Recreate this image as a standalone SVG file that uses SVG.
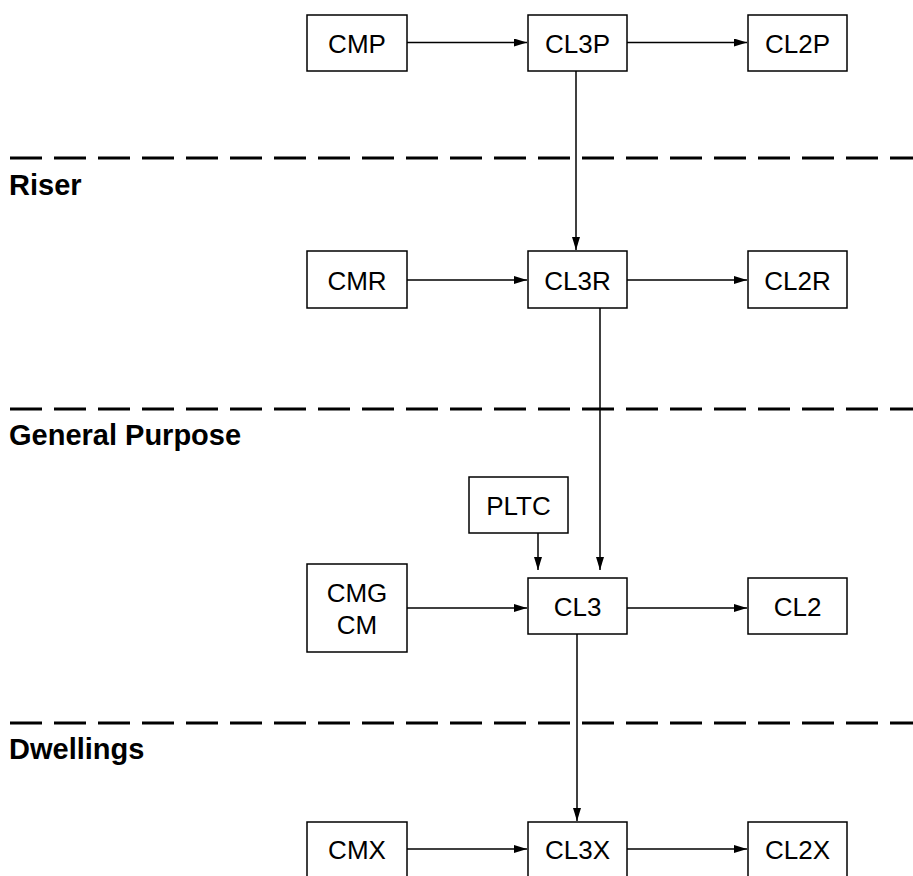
<svg xmlns="http://www.w3.org/2000/svg" width="913" height="876" viewBox="0 0 913 876">
<style>
.box{fill:#fff;stroke:#000;stroke-width:1.5}
.lbl{font-family:"Liberation Sans",Arial,sans-serif;font-size:26px;text-anchor:middle;fill:#000}
.sec{font-family:"Liberation Sans",Arial,sans-serif;font-size:29px;font-weight:bold;fill:#000}
.dash{stroke:#000;stroke-width:3;stroke-dasharray:32 12;fill:none}
.conn{stroke:#000;stroke-width:1.5;fill:none;marker-end:url(#ah)}
</style>
<defs>
<marker id="ah" viewBox="0 0 13 8" refX="13" refY="4" markerWidth="13" markerHeight="8" markerUnits="userSpaceOnUse" orient="auto">
<path d="M0,0 L13,4 L0,8 Z" fill="#000"/>
</marker>
</defs>
<rect width="913" height="876" fill="#fff"/>
<g id="separators">
<line class="dash" x1="10" y1="158" x2="913" y2="158"/>
<line class="dash" x1="10" y1="409" x2="913" y2="409"/>
<line class="dash" x1="10" y1="723" x2="913" y2="723"/>
<text class="sec" x="9" y="195">Riser</text>
<text class="sec" x="9" y="445">General Purpose</text>
<text class="sec" x="9" y="759">Dwellings</text>
</g>
<g id="connectors">
<line class="conn" x1="407" y1="42.5" x2="527" y2="42.5"/>
<line class="conn" x1="627" y1="42.5" x2="747" y2="42.5"/>
<line class="conn" x1="576" y1="71" x2="576" y2="250"/>
<line class="conn" x1="407" y1="280" x2="527" y2="280"/>
<line class="conn" x1="627" y1="280" x2="747" y2="280"/>
<line class="conn" x1="600" y1="308" x2="600" y2="570"/>
<line class="conn" x1="538" y1="533" x2="538" y2="570"/>
<line class="conn" x1="407" y1="608" x2="527" y2="608"/>
<line class="conn" x1="627" y1="608" x2="747" y2="608"/>
<line class="conn" x1="577" y1="634" x2="577" y2="821"/>
<line class="conn" x1="407" y1="849" x2="527" y2="849"/>
<line class="conn" x1="627" y1="849" x2="747" y2="849"/>
</g>
<g id="CMP"><rect class="box" x="307" y="15" width="100" height="56"/><text class="lbl" x="357" y="52.5">CMP</text></g>
<g id="CL3P"><rect class="box" x="528" y="15" width="99" height="56"/><text class="lbl" x="577.5" y="52.5">CL3P</text></g>
<g id="CL2P"><rect class="box" x="748" y="15" width="99" height="56"/><text class="lbl" x="797.5" y="52.5">CL2P</text></g>
<g id="CMR"><rect class="box" x="307" y="251" width="100" height="57"/><text class="lbl" x="357" y="289.5">CMR</text></g>
<g id="CL3R"><rect class="box" x="528" y="251" width="99" height="57"/><text class="lbl" x="577.5" y="289.5">CL3R</text></g>
<g id="CL2R"><rect class="box" x="748" y="251" width="99" height="57"/><text class="lbl" x="797.5" y="289.5">CL2R</text></g>
<g id="PLTC"><rect class="box" x="469" y="477" width="99" height="56"/><text class="lbl" x="518.5" y="514.5">PLTC</text></g>
<g id="CMG"><rect class="box" x="307" y="564" width="100" height="88"/><text class="lbl" x="357" y="602">CMG</text><text class="lbl" x="357" y="633.5">CM</text></g>
<g id="CL3"><rect class="box" x="528" y="578" width="99" height="56"/><text class="lbl" x="577.5" y="615.5">CL3</text></g>
<g id="CL2"><rect class="box" x="748" y="578" width="99" height="56"/><text class="lbl" x="797.5" y="615.5">CL2</text></g>
<g id="CMX"><rect class="box" x="307" y="822" width="100" height="56"/><text class="lbl" x="357" y="858.5">CMX</text></g>
<g id="CL3X"><rect class="box" x="528" y="822" width="99" height="56"/><text class="lbl" x="577.5" y="858.5">CL3X</text></g>
<g id="CL2X"><rect class="box" x="748" y="822" width="99" height="56"/><text class="lbl" x="797.5" y="858.5">CL2X</text></g>
</svg>
